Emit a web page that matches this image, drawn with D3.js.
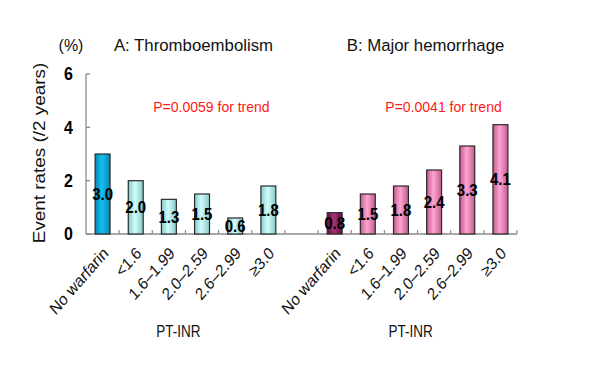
<!DOCTYPE html>
<html><head><meta charset="utf-8">
<script src="https://cdn.jsdelivr.net/npm/d3@7"></script>
<style>body{margin:0;background:#fff;} svg{font-family:"Liberation Sans",Arial,sans-serif;}</style>
</head><body>
<svg id="c" width="590" height="387"></svg>
<script>
const categories = ["No warfarin","<1.6","1.6\u20131.99","2.0\u20132.59","2.6\u20132.99","\u22653.0"];
const thromboValues = [3.0, 2.0, 1.3, 1.5, 0.6, 1.8];
const hemorrhageValues = [0.8, 1.5, 1.8, 2.4, 3.3, 4.1];
const yTicks = [0, 2, 4, 6];
const panelTitles = ["A: Thromboembolism", "B: Major hemorrhage"];
const pTexts = ["P=0.0059 for trend", "P=0.0041 for trend"];

const svg = d3.select("#c");
const defs = svg.append("defs");
function grad(id, edge, mid) {
  const g = defs.append("linearGradient").attr("id", id).attr("x1","0").attr("x2","1");
  g.append("stop").attr("offset","0%").attr("stop-color",edge);
  g.append("stop").attr("offset","45%").attr("stop-color",mid);
  g.append("stop").attr("offset","100%").attr("stop-color",edge);
}
grad("gBlue", "#0a84b4", "#14c0f0");
grad("gCyan", "#86caca", "#d2fcfc");
grad("gMaroon", "#5e1040", "#a83474");
grad("gPink", "#c05c90", "#ffa4d2");

const keys = [];
const rows = [];
categories.forEach((c,i)=>{ keys.push("A"+i); rows.push({k:"A"+i, label:c, v:thromboValues[i], fill: i===0?"url(#gBlue)":"url(#gCyan)"}); });
keys.push("gap");
categories.forEach((c,i)=>{ keys.push("B"+i); rows.push({k:"B"+i, label:c, v:hemorrhageValues[i], fill: i===0?"url(#gMaroon)":"url(#gPink)"}); });

const x = d3.scaleBand().domain(keys).range([86, 517]).paddingInner(0.55).paddingOuter(0.275);
const y = d3.scaleLinear().domain([0, 6]).range([234, 74]);
const step = x.step();
const x0 = x.range()[0];

// axes
const axisColor = "#8a8a8a";
svg.append("line").attr("x1", x0).attr("x2", x0).attr("y1", y(0)).attr("y2", y(6)).attr("stroke", axisColor).attr("stroke-width",1.3);
svg.append("line").attr("x1", x0).attr("x2", x.range()[1]).attr("y1", y(0)).attr("y2", y(0)).attr("stroke", axisColor).attr("stroke-width",1.3);
yTicks.forEach(t=>{
  svg.append("line").attr("x1", x0).attr("x2", x0+4).attr("y1", y(t)).attr("y2", y(t)).attr("stroke", axisColor).attr("stroke-width",1.3);
  svg.append("text").attr("transform", `translate(73,${y(t)}) scale(1,1.1)`).attr("dy","0.36em").attr("text-anchor","end")
    .attr("font-size", 16).attr("font-weight","bold").text(t);
});
for (let i = 1; i <= keys.length; i++) {
  const bx = x0 + i*step;
  svg.append("line").attr("x1", bx).attr("x2", bx).attr("y1", y(0)).attr("y2", y(0)-4).attr("stroke", axisColor).attr("stroke-width",1.2);
}

// bars
const bw = x.bandwidth();
svg.selectAll("rect.bar").data(rows).enter().append("rect").attr("class","bar")
  .attr("x", d=>x(d.k)).attr("width", bw)
  .attr("y", d=>y(d.v)).attr("height", d=>y(0)-y(d.v))
  .attr("fill", d=>d.fill).attr("stroke","#2a2a2a").attr("stroke-width",1.2);

svg.selectAll("text.val").data(rows).enter().append("text").attr("class","val")
  .attr("transform", d=>`translate(${x(d.k)+bw/2},${(y(d.v)+y(0))/2}) scale(1,1.12)`).attr("dy","0.36em")
  .attr("text-anchor","middle").attr("font-size",15).attr("font-weight","bold").attr("fill","#000")
  .text(d=>d.v.toFixed(1));

// category labels
svg.selectAll("text.cat").data(rows).enter().append("text").attr("class","cat")
  .attr("transform", d=>`translate(${x(d.k)+bw/2+3},${y(0)+16}) scale(1,1.15) rotate(-45)`)
  .attr("text-anchor","end").attr("dy","0.35em").attr("font-size",14.8).attr("fill","#111")
  .text(d=>d.label);

// group labels
["A","B"].forEach((g,gi)=>{
  const first = x(g+"0")+bw/2, last = x(g+"5")+bw/2;
  const cx = (first+last)/2;
  svg.append("text").attr("transform", `translate(${cx - 7},337) scale(1,1.2)`).attr("text-anchor","middle").attr("font-size",13.5).attr("fill","#111").text("PT-INR");
  svg.append("text").attr("x", cx + 8).attr("y", 51).attr("text-anchor","middle").attr("font-size",16.8).attr("fill","#111").text(panelTitles[gi]);
  svg.append("text").attr("x", cx + 26).attr("y", 112).attr("text-anchor","middle").attr("font-size",14).attr("fill","#ff1a1a").text(pTexts[gi]);
});

svg.append("text").attr("x", 71).attr("y", 51).attr("text-anchor","middle").attr("font-size",16).attr("fill","#111").text("(%)");
svg.append("text").attr("transform","translate(45,153) scale(1,1.18) rotate(-90)").attr("text-anchor","middle")
  .attr("font-size",16).attr("fill","#111").text("Event rates (/2 years)");
</script>
</body></html>
